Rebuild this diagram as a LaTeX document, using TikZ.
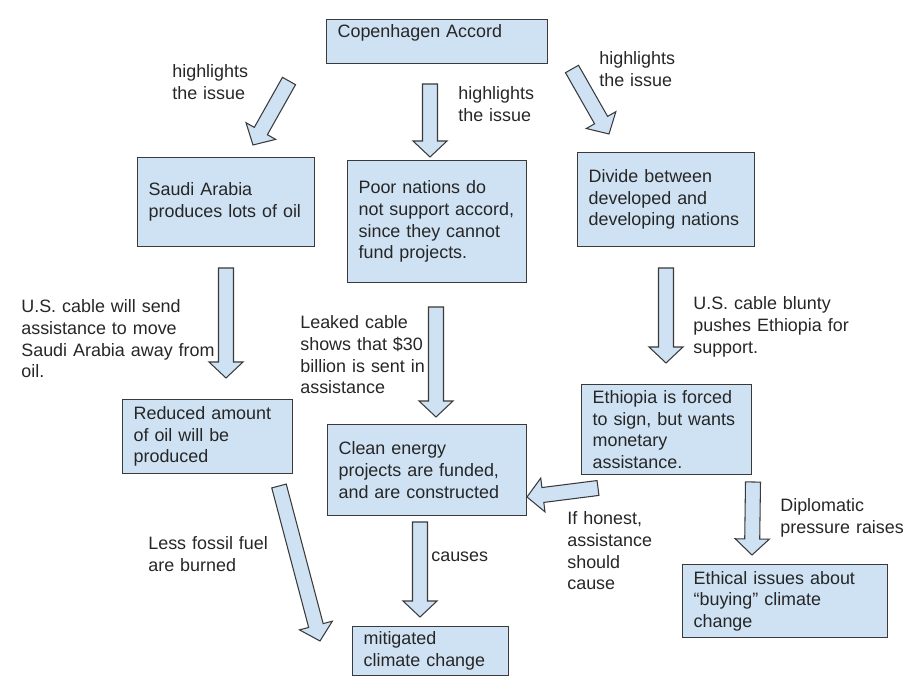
\documentclass[tikz,border=0pt]{standalone}
\usepackage{fontspec}
\setmainfont{Liberation Sans}
\usetikzlibrary{calc}

\definecolor{boxblue}{HTML}{CFE2F3}
\definecolor{edgegray}{HTML}{3A3A3A}
\definecolor{textgray}{HTML}{262626}

\begin{document}
\begin{tikzpicture}[
    x=0.02cm, y=-0.02cm,
    every node/.style={font=\fontsize{10.2pt}{12.3pt}\selectfont, text=textgray},
    box/.style={draw=edgegray, fill=boxblue, line width=0.7pt, anchor=north west,
        align=left, inner xsep=0.22cm, inner ysep=0.1cm},
    note/.style={anchor=base west, align=left, inner sep=0pt, text width=5cm},
    bigarrow/.style={draw=edgegray, fill=boxblue, line width=0.6pt, line join=miter,
        to path={
            -- ($(\tikztostart)!0.15cm!-90:(\tikztotarget)$)
            -- ($(\tikztotarget)!0.32cm!(\tikztostart)!0.15cm!-90:(\tikztotarget)$)
            -- ($(\tikztotarget)!0.32cm!(\tikztostart)!0.34cm!-90:(\tikztotarget)$)
            -- (\tikztotarget)
            -- ($(\tikztotarget)!0.32cm!(\tikztostart)!0.34cm!90:(\tikztotarget)$)
            -- ($(\tikztotarget)!0.32cm!(\tikztostart)!0.15cm!90:(\tikztotarget)$)
            -- ($(\tikztostart)!0.15cm!90:(\tikztotarget)$)
            -- cycle}}
]
    \useasboundingbox (0,0) rectangle (913,688);

    % Boxes
    \node[box, text width=3.98cm, text depth=0.42cm] (copen) at (326,19) {Copenhagen Accord};
    \node[box, text width=3.1cm, minimum height=1.78cm] (saudi) at (137,157) {Saudi Arabia\\produces lots of oil};
    \node[box, text width=3.14cm, minimum height=2.44cm] (poor) at (347,160) {Poor nations do\\not support accord,\\since they cannot\\fund projects.};
    \node[box, text width=3.1cm, minimum height=1.88cm] (divide) at (577,152) {Divide between\\developed and\\developing nations};
    \node[box, text width=2.96cm, minimum height=1.48cm] (reduced) at (122,399) {Reduced amount\\of oil will be\\produced};
    \node[box, text width=3.54cm, minimum height=1.82cm] (clean) at (327,424) {Clean energy\\projects are funded,\\and are constructed};
    \node[box, text width=2.96cm, minimum height=1.8cm, inner ysep=0.06cm] (ethiopia) at (581,384) {Ethiopia is forced\\to sign, but wants\\monetary\\assistance.};
    \node[box, text width=3.66cm, minimum height=1.46cm] (ethical) at (682,564) {Ethical issues about\\“buying” climate\\change};
    \node[box, text width=2.68cm, minimum height=0.98cm] (mitigated) at (352,626) {mitigated\\climate change};

    % Arrow ends
    \coordinate (a1) at (289,81);  \coordinate (b1) at (253,145);
    \coordinate (a2) at (430,84);  \coordinate (b2) at (430,157);
    \coordinate (a3) at (572,69);  \coordinate (b3) at (609,134);
    \coordinate (a4) at (226,268); \coordinate (b4) at (226,378);
    \coordinate (a5) at (436,307); \coordinate (b5) at (436,417);
    \coordinate (a6) at (666,268); \coordinate (b6) at (666,363);
    \coordinate (a7) at (598,488); \coordinate (b7) at (527,497);
    \coordinate (a8) at (753,482); \coordinate (b8) at (752,555);
    \coordinate (a9) at (279,486); \coordinate (b9) at (320,641);
    \coordinate (a10) at (420,522); \coordinate (b10) at (420,617);

    % Block arrows
    \draw[bigarrow] (a1) to (b1);
    \draw[bigarrow] (a2) to (b2);
    \draw[bigarrow] (a3) to (b3);
    \draw[bigarrow] (a4) to (b4);
    \draw[bigarrow] (a5) to (b5);
    \draw[bigarrow] (a6) to (b6);
    \draw[bigarrow] (a7) to (b7);
    \draw[bigarrow] (a8) to (b8);
    \draw[bigarrow] (a9) to (b9);
    \draw[bigarrow] (a10) to (b10);

    % Labels
    \node[note] (hl1) at (172,78) {highlights\\the issue};
    \node[note] (hl2) at (458,100) {highlights\\the issue};
    \node[note] (hl3) at (599,65) {highlights\\the issue};
    \node[note] (cable1) at (21,313) {U.S. cable will send\\assistance to move\\Saudi Arabia away from\\oil.};
    \node[note] (leaked) at (300,329) {Leaked cable\\shows that \$30\\billion is sent in\\assistance};
    \node[note] (cable2) at (693,310) {U.S. cable blunty\\pushes Ethiopia for\\support.};
    \node[note] (fossil) at (148,550) {Less fossil fuel\\are burned};
    \node[note] (causes) at (431,562) {causes};
    \node[note] (honest) at (567,525) {If honest,\\assistance\\should\\cause};
    \node[note] (pressure) at (780,512) {Diplomatic\\pressure raises};
\end{tikzpicture}
\end{document}
